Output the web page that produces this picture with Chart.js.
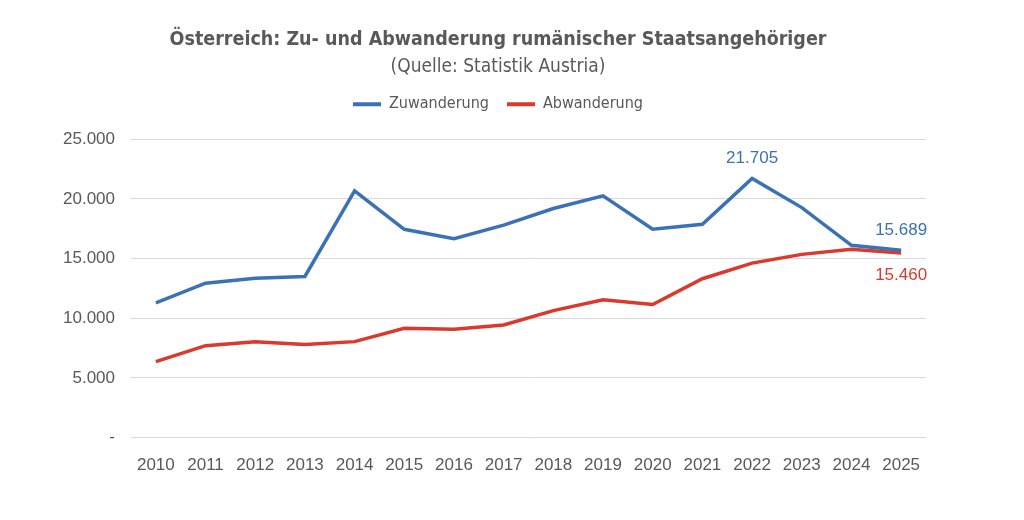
<!DOCTYPE html>
<html>
<head>
<meta charset="utf-8">
<script src="https://cdn.jsdelivr.net/npm/chart.js@4/dist/chart.umd.min.js"></script>
<style>
  html, body { margin: 0; padding: 0; background: #fff; }
  #wrap { width: 1024px; height: 520px; }
</style>
</head>
<body>
<div id="wrap"><canvas id="c"></canvas></div>
<script>
const years = ["2010","2011","2012","2013","2014","2015","2016","2017","2018","2019","2020","2021","2022","2023","2024","2025"]
const zuwanderung = [11290, 12940, 13360, 13500, 20670, 17450, 16670, 17800, 19190, 20250, 17450, 17870, 21705, 19270, 16110, 15689]
const abwanderung = [6360, 7700, 8040, 7790, 8040, 9160, 9080, 9440, 10640, 11540, 11150, 13310, 14620, 15350, 15770, 15460]
// which points get a value label, and where
const labelled = {
    0: {12: "above", 15: "above"},
    1: {15: "below"}
}

const narrow = '"Liberation Sans Narrow", "DejaVu Sans Condensed", sans-serif'
const plain = '"Liberation Sans", Arial, sans-serif'
const gray = "#595959"
const blue = "#3a72b5"
const red = "#d93a2c"

const fmt = v => v === 0 ? "-" : v.toLocaleString("de-DE")

// draws the value labels next to the chosen points
const valueLabels = {
    id: "valueLabels",
    afterDatasetsDraw(chart){
        const ctx = chart.ctx
        ctx.save()
        ctx.font = "17px " + plain
        ctx.textAlign = "center"
        chart.data.datasets.forEach((ds, i) => {
            const meta = chart.getDatasetMeta(i)
            const wanted = labelled[i] || {}
            Object.keys(wanted).forEach(k => {
                const pt = meta.data[k]
                ctx.fillStyle = ds.borderColor
                if(wanted[k] === "above"){
                    ctx.textBaseline = "bottom"
                    ctx.fillText(fmt(ds.data[k]), pt.x, pt.y - 12)
                }else{
                    ctx.textBaseline = "top"
                    ctx.fillText(fmt(ds.data[k]), pt.x, pt.y + 14)
                }
            })
        })
        ctx.restore()
    }
}

// a bit more room under the legend
const legendGap = {
    id: "legendGap",
    beforeInit(chart){
        const fit = chart.legend.fit
        chart.legend.fit = function(){
            fit.bind(chart.legend)()
            this.height += 17
        }
    }
}

new Chart(document.getElementById("c"), {
    type: "line",
    data: {
        labels: years,
        datasets: [{
            label: "Zuwanderung",
            data: zuwanderung,
            borderColor: blue,
            backgroundColor: blue,
            borderWidth: 3.5,
            pointRadius: 0,
            tension: 0
        }, {
            label: "Abwanderung",
            data: abwanderung,
            borderColor: red,
            backgroundColor: red,
            borderWidth: 3.5,
            pointRadius: 0,
            tension: 0
        }]
    },
    options: {
        responsive: true,
        maintainAspectRatio: false,
        animation: false,
        layout: { padding: { left: 47, right: 75, top: 28, bottom: 34 } },
        plugins: {
            tooltip: { enabled: false },
            title: {
                display: true,
                text: "Österreich: Zu- und Abwanderung rumänischer Staatsangehöriger",
                color: gray,
                font: { family: narrow, size: 19.5, weight: "bold" },
                padding: { top: 0, bottom: 4 }
            },
            subtitle: {
                display: true,
                text: "(Quelle: Statistik Austria)",
                color: gray,
                font: { family: narrow, size: 19 },
                padding: { top: 0, bottom: 0 }
            },
            legend: {
                position: "top",
                labels: {
                    color: gray,
                    font: { family: narrow, size: 16 },
                    boxWidth: 28,
                    boxHeight: 4,
                    padding: 18,
                    generateLabels(chart){
                        return Chart.defaults.plugins.legend.labels.generateLabels(chart)
                            .map(l => Object.assign(l, { lineWidth: 0 }))
                    }
                }
            }
        },
        scales: {
            x: {
                offset: true,
                grid: { display: false },
                border: { display: false },
                ticks: {
                    color: gray,
                    font: { family: plain, size: 17 },
                    padding: 10,
                    maxRotation: 0
                }
            },
            y: {
                min: 0,
                max: 25000,
                grid: { color: "#d9d9d9", lineWidth: 1, drawTicks: false },
                border: { display: false },
                ticks: {
                    stepSize: 5000,
                    color: gray,
                    padding: 16,
                    font: { family: plain, size: 17 },
                    callback: v => fmt(v)
                }
            },
            // empty axis on the right, only to keep the plot off the edge
            spacer: {
                position: "right",
                grid: { display: false },
                border: { display: false },
                ticks: { display: false },
                afterFit(scale){ scale.width = 23 }
            }
        }
    },
    plugins: [valueLabels, legendGap]
})
</script>
</body>
</html>
